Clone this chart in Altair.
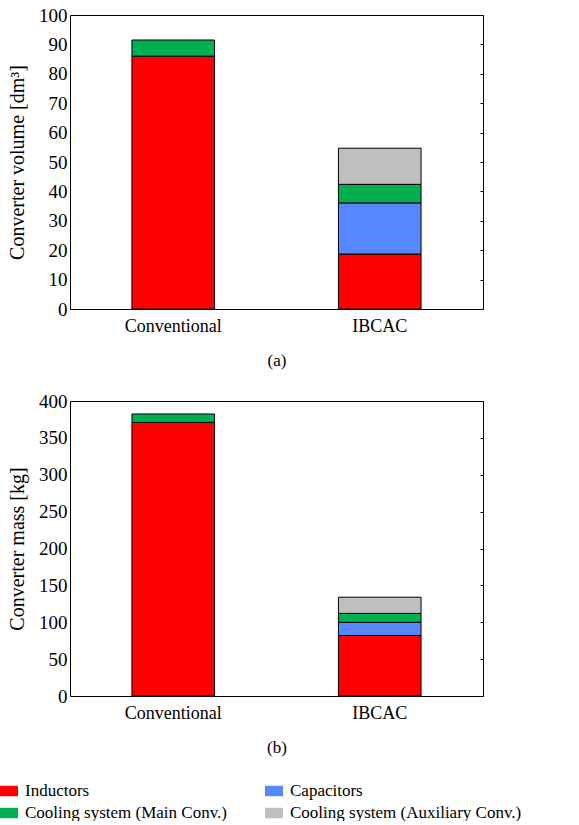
import altair as alt
import pandas as pd

categories = ["Conventional", "IBCAC"]
components = ["Inductors", "Capacitors", "Cooling system (Main Conv.)", "Cooling system (Auxiliary Conv.)"]
colors = ["#FF0000", "#5588FF", "#00B050", "#BFBFBF"]
# legend fills column by column: this order puts Inductors / Capacitors on the first row
legend_order = [0, 2, 1, 3]

volume_conventional = [86.0, 0.0, 5.5, 0.0]
volume_ibcac = [18.7, 17.4, 6.3, 12.3]
mass_conventional = [371.0, 0.0, 11.4, 0.0]
mass_ibcac = [82.0, 18.0, 12.0, 22.0]

volume_ticks = [0, 10, 20, 30, 40, 50, 60, 70, 80, 90, 100]
mass_ticks = [0, 50, 100, 150, 200, 250, 300, 350, 400]

FONT = "Liberation Serif"


def make_df(conv, ibcac):
    rows = []
    for cat, vals in zip(categories, [conv, ibcac]):
        for i, (comp, v) in enumerate(zip(components, vals)):
            if v > 0:
                rows.append({"cat": cat, "comp": comp, "idx": i, "value": v})
    return pd.DataFrame(rows)


def panel(df, ytitle, ymax, ticks, caption, h):
    x = alt.X(
        "cat:N",
        sort=categories,
        scale=alt.Scale(paddingInner=0.6, paddingOuter=0.3),
        axis=alt.Axis(
            title=caption, labelAngle=0, ticks=False, domain=False,
            labelPadding=8, titlePadding=17, labelFontSize=18, titleFontSize=17,
            labelFont=FONT, titleFont=FONT,
        ),
    )
    bars = alt.Chart(df).mark_bar(stroke="black", strokeWidth=1).encode(
        x=x,
        y=alt.Y(
            "value:Q", stack="zero",
            scale=alt.Scale(domain=[0, ymax], nice=False, zero=True),
            axis=alt.Axis(values=ticks, ticks=False, grid=False, domain=False,
                          title=ytitle, labelPadding=3, titlePadding=11,
                          labelFontSize=19, titleFontSize=20,
                          labelFont=FONT, titleFont=FONT),
        ),
        color=alt.Color(
            "comp:N",
            scale=alt.Scale(domain=[components[i] for i in legend_order],
                            range=[colors[i] for i in legend_order]),
            legend=alt.Legend(
                title=None, orient="none", legendX=-70, legendY=767,
                columns=2, columnPadding=38, rowPadding=5,
                symbolType="M-1,-0.58H1V0.58H-1Z", symbolSize=324,
                symbolStrokeWidth=0, symbolOpacity=1, labelOffset=7,
                labelFont=FONT, labelFontSize=17, labelColor="black",
                labelLimit=400,
            ),
        ),
        order=alt.Order("idx:Q"),
    )
    right = alt.Chart(df).mark_bar(opacity=0).encode(
        x=x,
        y=alt.Y(
            "value:Q", stack="zero",
            scale=alt.Scale(domain=[0, ymax], nice=False, zero=True),
            axis=alt.Axis(orient="right", values=ticks, labels=False, ticks=True,
                          tickSize=3, offset=-3, domain=False, grid=False, title=None),
        ),
        order=alt.Order("idx:Q"),
    )
    return alt.layer(bars, right).resolve_axis(y="independent").properties(width=413, height=h)


top = panel(make_df(volume_conventional, volume_ibcac), "Converter volume [dm³]", 100, volume_ticks, "(a)", 294)
bottom = panel(make_df(mass_conventional, mass_ibcac), "Converter mass [kg]", 400, mass_ticks, "(b)", 295)

chart = alt.vconcat(top, bottom, spacing=22).properties(
    padding={"left": 0, "top": 5, "right": 5, "bottom": 0}
).configure(
    font=FONT
).configure_view(
    stroke="black", strokeWidth=1
).configure_axis(
    labelFont=FONT, titleFont=FONT,
    labelColor="black", titleColor="black", titleFontWeight="normal",
    tickColor="black",
).configure_legend(
    orient="none", labelFont=FONT
)

chart.save("out.html", embed_options={"renderer": "svg", "actions": False})
